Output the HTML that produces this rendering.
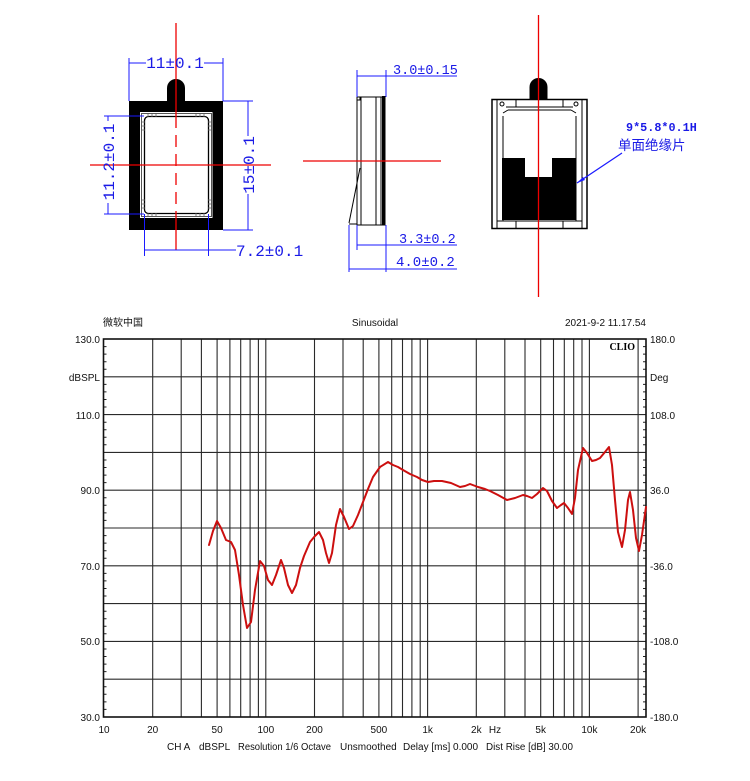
<!DOCTYPE html>
<html><head><meta charset="utf-8"><style>
html,body{margin:0;padding:0;background:#fff;}
svg{display:block;}
.dim{font-family:"Liberation Mono","Noto Sans CJK SC",monospace;fill:#1a1ae6;}
.ax{font-family:"Liberation Sans",Arial,sans-serif;font-size:10px;fill:#111;}
</style></head><body>
<svg width="750" height="781" viewBox="0 0 750 781" xmlns="http://www.w3.org/2000/svg">
<rect width="750" height="781" fill="#fff"/>

<!-- ===== LEFT DRAWING ===== -->
<path d="M129,101 H223 V230 H129 Z M140,112 V218 H212.5 V112 Z" fill="#000" fill-rule="evenodd"/>
<path d="M167,102 V88 A9,9 0 0 1 185,88 V102 Z" fill="#000"/>
<rect x="141.5" y="113.5" width="70" height="103" fill="none" stroke="#555" stroke-width="1"/>
<rect x="144.5" y="116.5" width="64" height="97" rx="4" fill="none" stroke="#000" stroke-width="1.3"/>
<g stroke="#666" stroke-width="0.8">
<path d="M142,122h3 M142,126h3 M142,130h3 M142,200h3 M142,204h3 M142,208h3 M208,122h3 M208,126h3 M208,130h3 M208,200h3 M208,204h3 M208,208h3"/>
<path d="M148,114v3 M152,114v3 M156,114v3 M196,114v3 M200,114v3 M204,114v3 M148,213v3 M152,213v3 M156,213v3 M196,213v3 M200,213v3 M204,213v3"/>
</g>
<!-- red center lines -->
<line x1="176" y1="23" x2="176" y2="116" stroke="#e00" stroke-width="1.3"/>
<line x1="176" y1="116" x2="176" y2="214" stroke="#e00" stroke-width="1.3" stroke-dasharray="12,7"/>
<line x1="176" y1="214" x2="176" y2="250" stroke="#e00" stroke-width="1.3"/>
<line x1="90" y1="165" x2="271" y2="165" stroke="#e00" stroke-width="1.3"/>
<!-- blue dims -->
<g stroke="#1a1aff" stroke-width="1" fill="none">
<path d="M129,58 V101 M223,58 V101"/>
<path d="M129,63 H146 M204,63 H223"/>
<path d="M104,116 H144 M104,214 H144 M108,116 V121 M108,203 V214"/>
<path d="M223,101 H253 M223,230 H253 M248,101 V136 M248,194 V230"/>
<path d="M144.5,214 V256 M208.5,214 V256 M144.5,250 H236"/>
</g>
<text class="dim" x="175" y="68" font-size="16" text-anchor="middle">11±0.1</text>
<text class="dim" x="0" y="0" font-size="16" text-anchor="middle" transform="translate(114,162) rotate(-90)">11.2±0.1</text>
<text class="dim" x="0" y="0" font-size="16" text-anchor="middle" transform="translate(254,165) rotate(-90)">15±0.1</text>
<text class="dim" x="236" y="256" font-size="16">7.2±0.1</text>

<!-- ===== MIDDLE DRAWING ===== -->
<g stroke="#000" fill="none" stroke-width="1">
<rect x="357" y="97" width="28" height="128"/>
<line x1="361" y1="97" x2="361" y2="225"/>
<line x1="376" y1="97" x2="376" y2="225"/>
<line x1="381" y1="97" x2="381" y2="225"/>
<line x1="360" y1="168" x2="349" y2="223"/>
<line x1="349" y1="224" x2="357" y2="224"/>
<rect x="357" y="97" width="3" height="3"/>
</g>
<rect x="382" y="96" width="3.5" height="129.5" fill="#000"/>
<line x1="303" y1="161" x2="441" y2="161" stroke="#e00" stroke-width="1.3"/>
<g stroke="#1a1aff" stroke-width="1" fill="none">
<path d="M357,70 V97 M386,70 V97 M357,76 H457"/>
<path d="M357,225 V250 M386,225 V272 M357,245 H457"/>
<path d="M349,225 V272 M349,269 H457"/>
</g>
<text class="dim" x="393" y="74" font-size="13.5">3.0±0.15</text>
<text class="dim" x="399" y="243" font-size="13.5">3.3±0.2</text>
<text class="dim" x="396" y="266" font-size="14">4.0±0.2</text>

<!-- ===== RIGHT DRAWING ===== -->
<path d="M529.5,100 V87 A9,9 0 0 1 547.5,87 V100 Z" fill="#000"/>
<g stroke="#000" fill="none" stroke-width="1">
<rect x="492" y="99.5" width="95" height="129" stroke-width="1.5"/>
<line x1="497" y1="100" x2="497" y2="228"/>
<line x1="582" y1="100" x2="582" y2="228"/>
<line x1="503" y1="116" x2="503" y2="221"/>
<line x1="576" y1="116" x2="576" y2="221"/>
<line x1="506" y1="107" x2="573" y2="107"/>
<line x1="508" y1="110" x2="571" y2="110"/>
<line x1="516" y1="100" x2="516" y2="107"/>
<line x1="563" y1="100" x2="563" y2="107"/>
<line x1="497" y1="221" x2="582" y2="221"/>
<line x1="516" y1="221" x2="516" y2="228"/>
<line x1="563" y1="221" x2="563" y2="228"/>
<circle cx="502" cy="104" r="2"/>
<circle cx="576" cy="104" r="2"/>
<path d="M503,113 L508,110 M576,113 L571,110"/>
</g>
<path d="M502,158 H525 V177 H552 V158 H576 V220 H502 Z" fill="#000"/>
<line x1="538.5" y1="15" x2="538.5" y2="297" stroke="#e00" stroke-width="1.3"/>
<line x1="622" y1="153" x2="577" y2="183" stroke="#1a1aff" stroke-width="1.2"/>
<path d="M577,183 L583,177 L585,180 Z" fill="#1a1aff"/>
<text class="dim" x="626" y="131" font-size="11.8" font-weight="bold">9*5.8*0.1H</text>
<text x="618" y="150" font-size="13.5" fill="#1a1ae6" font-family="'Noto Sans CJK SC',sans-serif">单面绝缘片</text>

<!-- ===== CHART ===== -->
<g stroke="#2a2a2a" stroke-width="1.1">
<line x1="103.5" y1="376.8" x2="646" y2="376.8"/>
<line x1="103.5" y1="414.6" x2="646" y2="414.6"/>
<line x1="103.5" y1="452.4" x2="646" y2="452.4"/>
<line x1="103.5" y1="490.2" x2="646" y2="490.2"/>
<line x1="103.5" y1="528" x2="646" y2="528"/>
<line x1="103.5" y1="565.8" x2="646" y2="565.8"/>
<line x1="103.5" y1="603.6" x2="646" y2="603.6"/>
<line x1="103.5" y1="641.4" x2="646" y2="641.4"/>
<line x1="103.5" y1="679.2" x2="646" y2="679.2"/>
</g>
<g stroke="#2a2a2a" stroke-width="1.1">
<line x1="152.7" y1="339" x2="152.7" y2="717"/>
<line x1="181.2" y1="339" x2="181.2" y2="717"/>
<line x1="201.4" y1="339" x2="201.4" y2="717"/>
<line x1="217.1" y1="339" x2="217.1" y2="717"/>
<line x1="229.9" y1="339" x2="229.9" y2="717"/>
<line x1="240.7" y1="339" x2="240.7" y2="717"/>
<line x1="250.1" y1="339" x2="250.1" y2="717"/>
<line x1="258.4" y1="339" x2="258.4" y2="717"/>
<line x1="265.8" y1="339" x2="265.8" y2="717"/>
<line x1="314.5" y1="339" x2="314.5" y2="717"/>
<line x1="343" y1="339" x2="343" y2="717"/>
<line x1="363.2" y1="339" x2="363.2" y2="717"/>
<line x1="378.9" y1="339" x2="378.9" y2="717"/>
<line x1="391.7" y1="339" x2="391.7" y2="717"/>
<line x1="402.5" y1="339" x2="402.5" y2="717"/>
<line x1="411.9" y1="339" x2="411.9" y2="717"/>
<line x1="420.2" y1="339" x2="420.2" y2="717"/>
<line x1="427.6" y1="339" x2="427.6" y2="717"/>
<line x1="476.3" y1="339" x2="476.3" y2="717"/>
<line x1="504.8" y1="339" x2="504.8" y2="717"/>
<line x1="525" y1="339" x2="525" y2="717"/>
<line x1="540.7" y1="339" x2="540.7" y2="717"/>
<line x1="553.5" y1="339" x2="553.5" y2="717"/>
<line x1="564.3" y1="339" x2="564.3" y2="717"/>
<line x1="573.7" y1="339" x2="573.7" y2="717"/>
<line x1="582" y1="339" x2="582" y2="717"/>
<line x1="589.4" y1="339" x2="589.4" y2="717"/>
<line x1="638.1" y1="339" x2="638.1" y2="717"/>
</g>
<!-- ticks -->
<g stroke="#222" stroke-width="1">
<path d="M103.5,346.6h3 M103.5,354.1h3 M103.5,361.7h3 M103.5,369.2h3 M103.5,384.4h3 M103.5,391.9h3 M103.5,399.5h3 M103.5,407h3 M103.5,422.2h3 M103.5,429.7h3 M103.5,437.3h3 M103.5,444.8h3 M103.5,460h3 M103.5,467.5h3 M103.5,475.1h3 M103.5,482.6h3 M103.5,497.8h3 M103.5,505.3h3 M103.5,512.9h3 M103.5,520.4h3 M103.5,535.6h3 M103.5,543.1h3 M103.5,550.7h3 M103.5,558.2h3 M103.5,573.4h3 M103.5,580.9h3 M103.5,588.5h3 M103.5,596h3 M103.5,611.2h3 M103.5,618.7h3 M103.5,626.3h3 M103.5,633.8h3 M103.5,649h3 M103.5,656.5h3 M103.5,664.1h3 M103.5,671.6h3 M103.5,686.8h3 M103.5,694.3h3 M103.5,701.9h3 M103.5,709.4h3"/>
<path d="M646,346.6h-3 M646,354.1h-3 M646,361.7h-3 M646,369.2h-3 M646,384.4h-3 M646,391.9h-3 M646,399.5h-3 M646,407h-3 M646,422.2h-3 M646,429.7h-3 M646,437.3h-3 M646,444.8h-3 M646,460h-3 M646,467.5h-3 M646,475.1h-3 M646,482.6h-3 M646,497.8h-3 M646,505.3h-3 M646,512.9h-3 M646,520.4h-3 M646,535.6h-3 M646,543.1h-3 M646,550.7h-3 M646,558.2h-3 M646,573.4h-3 M646,580.9h-3 M646,588.5h-3 M646,596h-3 M646,611.2h-3 M646,618.7h-3 M646,626.3h-3 M646,633.8h-3 M646,649h-3 M646,656.5h-3 M646,664.1h-3 M646,671.6h-3 M646,686.8h-3 M646,694.3h-3 M646,701.9h-3 M646,709.4h-3"/>
</g>
<rect x="103.5" y="339" width="542.5" height="378" fill="none" stroke="#111" stroke-width="1.6"/>

<!-- curve -->
<polyline fill="none" stroke="#cc0f0f" stroke-width="2" stroke-linejoin="round" stroke-linecap="round" points="209,545 213,531 217,521 221,528 226,540 231,542 235,550 239,575 243,605 247,628 251,622 255,590 260,561 264,566 268,580 272,585 276,575 281,560 284,568 288,585 292,593 296,585 300,568 304,556 310,542 315,536 319,532 323,540 326,553 329,563 332,553 336,525 340,509 344,517 349,529 353,526 358,515 363,502 368,489 373,477 380,467 388,462 393,465 398,467 403,470 410,474 417,477 422,480 428,482 434,481 442,481 451,483 460,487 465,486 470,484 478,487 485,489 490,491 498,495 507,500 515,498 523,495 527,496 532,498 537,494 543,488 547,491 552,501 557,508 561,505 564,503 568,508 572,514 575,498 578,470 583,448 587,453 592,461 596,460 600,458 605,452 609,447 612,465 615,500 618,532 622,547 625,530 628,500 630,492 633,510 636,538 639,551 642,535 646,507"/>

<!-- chart text -->
<text x="103" y="326" font-size="10" fill="#111" font-family="'Noto Sans CJK SC',sans-serif">微软中国</text>
<text class="ax" x="375" y="326" text-anchor="middle">Sinusoidal</text>
<text class="ax" x="646" y="326" text-anchor="end">2021-9-2 11.17.54</text>
<text x="635" y="350" text-anchor="end" font-family="'Liberation Serif',serif" font-weight="bold" font-size="10" fill="#000">CLIO</text>

<g class="ax" text-anchor="end">
<text x="100" y="343">130.0</text>
<text x="100" y="381">dBSPL</text>
<text x="100" y="419">110.0</text>
<text x="100" y="494">90.0</text>
<text x="100" y="570">70.0</text>
<text x="100" y="645">50.0</text>
<text x="100" y="721">30.0</text>
</g>
<g class="ax">
<text x="650" y="343">180.0</text>
<text x="650" y="381">Deg</text>
<text x="650" y="419">108.0</text>
<text x="650" y="494">36.0</text>
<text x="650" y="570">-36.0</text>
<text x="650" y="645">-108.0</text>
<text x="650" y="721">-180.0</text>
</g>
<g class="ax" text-anchor="middle">
<text x="104" y="733">10</text>
<text x="152.7" y="733">20</text>
<text x="217.1" y="733">50</text>
<text x="265.8" y="733">100</text>
<text x="314.5" y="733">200</text>
<text x="378.9" y="733">500</text>
<text x="427.6" y="733">1k</text>
<text x="476.3" y="733">2k</text>
<text x="495" y="733">Hz</text>
<text x="540.7" y="733">5k</text>
<text x="589.4" y="733">10k</text>
<text x="638.1" y="733">20k</text>
</g>
<g class="ax">
<text x="167" y="750">CH A</text>
<text x="199" y="750">dBSPL</text>
<text x="238" y="750" textLength="93" lengthAdjust="spacingAndGlyphs">Resolution 1/6 Octave</text>
<text x="340" y="750">Unsmoothed</text>
<text x="403" y="750">Delay [ms] 0.000</text>
<text x="486" y="750" textLength="87" lengthAdjust="spacingAndGlyphs">Dist Rise [dB] 30.00</text>
</g>
</svg>
</body></html>
